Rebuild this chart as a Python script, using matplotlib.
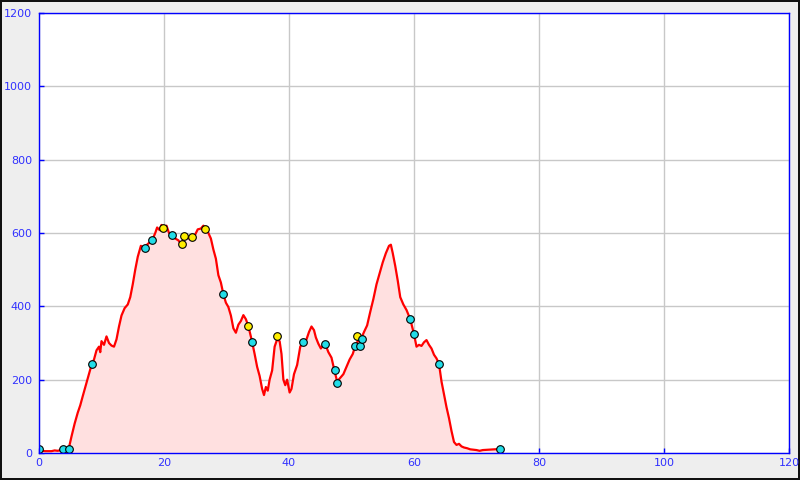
import matplotlib
matplotlib.use("Agg")
import matplotlib.pyplot as plt

# elevation profile (distance km, elevation m)
dist = [0, 0.5, 1, 2, 2.5, 3, 3.5, 4, 4.5, 4.8, 5.2, 5.7, 6.2, 6.6, 7.0, 7.5, 8.0, 8.4,
        8.8, 9.2, 9.6, 9.8, 10.0, 10.4, 10.8, 11.2, 11.6, 12.0, 12.4, 12.8, 13.2, 13.7,
        14.2, 14.6, 15.0, 15.4, 15.8, 16.3, 16.8, 17.4, 18.1, 18.6, 18.9, 19.3, 19.6,
        20.0, 20.4, 20.8, 21.3, 21.8, 22.3, 22.8, 23.2, 23.6, 24.0, 24.5, 25.0, 25.4,
        25.9, 26.3, 26.7, 27.1, 27.5, 27.9, 28.3, 28.7, 29.1, 29.5, 29.9, 30.3, 30.7,
        31.1, 31.5, 31.9, 32.3, 32.7, 33.1, 33.5, 34.1, 34.5, 34.9, 35.3, 35.7, 36.0,
        36.3, 36.6, 36.9, 37.3, 37.7, 38.1, 38.5, 38.8, 39.1, 39.4, 39.7, 40.1, 40.4,
        40.8, 41.3, 41.8, 42.3, 42.8, 43.2, 43.6, 44.0, 44.3, 44.7, 45.1, 45.5, 45.8,
        46.3, 46.8, 47.2, 47.7, 48.2, 48.7, 49.2, 49.7, 50.2, 50.6, 51.0, 51.5, 52.0,
        52.5, 53.0, 53.5, 54.0, 54.5, 55.0, 55.5, 56.0, 56.3, 56.6, 57.0, 57.4, 57.8,
        58.3, 58.8, 59.4, 60.0, 60.4, 60.8, 61.2, 61.6, 62.0, 62.4, 62.8, 63.2, 63.6,
        64.0, 64.4, 64.8, 65.2, 65.6, 66.0, 66.4, 66.8, 67.2, 67.6, 68.0, 68.5, 69.0,
        70.0, 70.5, 71, 72, 73, 73.8]
elev = [8, 6, 5, 5, 7, 6, 8, 9, 10, 15, 45, 80, 110, 130, 155, 185, 215, 240,
        255, 280, 290, 275, 305, 295, 318, 300, 293, 290, 310, 345, 375, 395,
        405, 425, 460, 500, 535, 565, 560, 570, 580, 600, 615, 608, 622,
        613, 620, 600, 594, 585, 580, 568, 590, 595, 585, 590, 596, 610,
        612, 620, 612, 600, 585, 555, 530, 485, 465, 433, 410, 398, 375,
        340, 328, 350, 360, 376, 365, 346, 303, 270, 235, 210, 175, 158,
        180, 170, 200, 225, 290, 310, 305, 270, 200, 185, 200, 165, 175,
        215, 240, 290, 303, 310, 330, 345, 335, 315, 298, 285, 295, 297,
        275, 260, 230, 195, 205, 215, 235, 255, 270, 292, 305, 310, 330,
        348, 385, 420, 460, 490, 520, 545, 565, 568, 545, 510, 470, 425,
        405, 390, 365, 324, 290, 295, 292, 302, 308, 295, 285, 268, 258,
        243, 195, 160, 125, 95, 60, 30, 22, 25, 18, 15, 13, 10,
        8, 6, 8, 9, 10, 11]

# waypoints
cyan_x = [0, 3.8, 4.75, 8.5, 16.9, 18.1, 21.3, 29.5, 34.1, 42.3, 45.8, 47.4, 47.7,
          50.6, 51.3, 51.7, 59.4, 60.0, 64.0, 73.8]
cyan_y = [11, 11, 11, 243, 559, 580, 594, 433, 303, 303, 297, 226, 191,
          292, 292, 311, 365, 324, 243, 11]
yellow_x = [19.9, 22.8, 23.2, 24.5, 26.6, 33.5, 38.1, 50.8]
yellow_y = [613, 570, 592, 589, 611, 346, 319, 319]

spine_blue = "#0000ff"
label_blue = "#3030ff"

fig = plt.figure(figsize=(8, 4.8), dpi=100, facecolor="#eeeeee",
                 edgecolor="#111111", linewidth=1.5)
ax = fig.add_axes([39 / 800, 27 / 480, 750 / 800, 440 / 480])
ax.set_facecolor("white")

ax.fill_between(dist, elev, 0, color="#ffe0e0", lw=0)
ax.plot(dist, elev, color="red", lw=1.6)
ax.plot(yellow_x, yellow_y, "o", ms=5.5, mfc="#ffee00", mec="black", mew=0.8)
ax.plot(cyan_x, cyan_y, "o", ms=5.5, mfc="#22dde8", mec="black", mew=0.8)

ax.set_xlim(0, 120)
ax.set_ylim(0, 1200)
ax.set_xticks(range(0, 121, 20))
ax.set_yticks(range(0, 1201, 200))
ax.grid(color="#c8c8c8", lw=1)
ax.set_axisbelow(True)
for s in ax.spines.values():
    s.set_color(spine_blue)
    s.set_linewidth(1.0)
ax.tick_params(colors=spine_blue, labelcolor=label_blue, labelsize=8,
               direction="in", length=3.5, width=1)
ax.tick_params(axis="y", pad=5)
ax.tick_params(axis="x", pad=3.5)

fig.savefig("out.png", dpi=100)
